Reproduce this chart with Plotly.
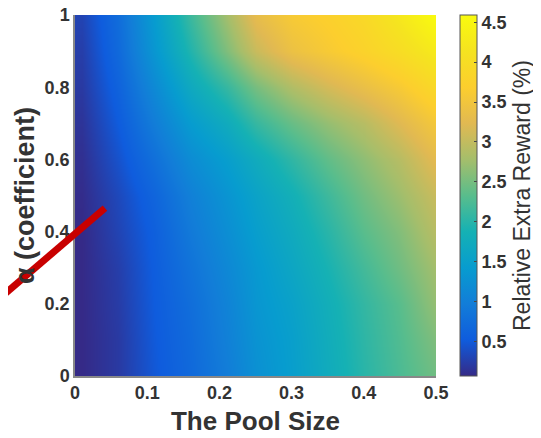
import plotly.graph_objects as go

# Pool size (x) grid and coefficient (y) grid
pool_size = [0.01, 0.06, 0.11, 0.16, 0.21, 0.25, 0.30, 0.35, 0.40, 0.45, 0.50]
coefficient = [0.0, 0.1, 0.2, 0.3, 0.4, 0.5, 0.6, 0.7, 0.8, 0.9, 1.0]

# Relative extra reward (%), one row per coefficient value
reward_c00 = [0.07, 0.21, 0.48, 0.70, 0.97, 1.25, 1.47, 1.74, 2.01, 2.24, 2.47]
reward_c01 = [0.07, 0.21, 0.50, 0.73, 1.02, 1.29, 1.49, 1.77, 2.04, 2.28, 2.56]
reward_c02 = [0.07, 0.23, 0.52, 0.77, 1.06, 1.34, 1.54, 1.81, 2.08, 2.33, 2.69]
reward_c03 = [0.07, 0.25, 0.54, 0.84, 1.13, 1.38, 1.63, 1.90, 2.19, 2.47, 2.78]
reward_c04 = [0.07, 0.30, 0.57, 0.93, 1.22, 1.47, 1.72, 2.01, 2.33, 2.58, 2.92]
reward_c05 = [0.09, 0.34, 0.64, 1.02, 1.31, 1.56, 1.83, 2.15, 2.47, 2.74, 3.05]
reward_c06 = [0.12, 0.43, 0.79, 1.20, 1.47, 1.74, 2.06, 2.38, 2.65, 2.92, 3.28]
reward_c07 = [0.16, 0.52, 0.97, 1.43, 1.74, 2.10, 2.42, 2.69, 2.92, 3.23, 3.55]
reward_c08 = [0.21, 0.61, 1.15, 1.70, 2.10, 2.51, 2.87, 3.14, 3.37, 3.60, 3.91]
reward_c09 = [0.25, 0.70, 1.34, 1.97, 2.56, 3.05, 3.41, 3.60, 3.78, 4.00, 4.27]
reward_c10 = [0.30, 0.75, 1.43, 2.15, 2.78, 3.32, 3.60, 3.73, 3.91, 4.23, 4.59]

reward = [reward_c00, reward_c01, reward_c02, reward_c03, reward_c04, reward_c05,
          reward_c06, reward_c07, reward_c08, reward_c09, reward_c10]

x_ticks = [0, 0.1, 0.2, 0.3, 0.4, 0.5]
x_tick_text = ["0", "0.1", "0.2", "0.3", "0.4", "0.5"]
y_ticks = [0, 0.2, 0.4, 0.6, 0.8, 1]
y_tick_text = ["0", "0.2", "0.4", "0.6", "0.8", "1"]
cb_ticks = [0.5, 1, 1.5, 2, 2.5, 3, 3.5, 4, 4.5]
cb_tick_text = ["0.5", "1", "1.5", "2", "2.5", "3", "3.5", "4", "4.5"]

parula = [
    [0.0, "rgb(53,42,135)"], [0.1, "rgb(15,92,221)"], [0.2, "rgb(18,125,216)"],
    [0.3, "rgb(7,156,207)"], [0.4, "rgb(21,177,180)"], [0.5, "rgb(89,189,140)"],
    [0.6, "rgb(165,190,107)"], [0.7, "rgb(225,185,82)"], [0.8, "rgb(252,206,46)"],
    [0.9, "rgb(245,227,32)"], [1.0, "rgb(249,251,14)"],
]

FONT = "Liberation Sans, Arial, Helvetica, sans-serif"
TXT = "#333333"

fig = go.Figure(go.Heatmap(
    x=pool_size, y=coefficient, z=reward,
    colorscale=parula, zmin=0.07, zmax=4.59, zsmooth="best",
    colorbar=dict(
        x=1.066, xanchor="left", xref="paper", xpad=0, y=0.5, yanchor="middle", ypad=0,
        len=1.0, lenmode="fraction", thickness=17, outlinewidth=1, outlinecolor="#555",
        tickvals=cb_ticks, ticktext=cb_tick_text, ticks="inside", ticklen=3, tickcolor="#444",
        tickfont=dict(family=FONT, size=18, color=TXT, weight="bold"),
        title=dict(text="Relative Extra Reward (%)", side="right",
                   font=dict(family=FONT, size=23, color=TXT)),
    ),
))

fig.add_shape(type="line", xref="paper", yref="paper",
              x0=-0.208, y0=0.216, x1=0.083, y1=0.465,
              line=dict(color="rgb(200,0,0)", width=7))

fig.update_layout(
    width=533, height=430,
    margin=dict(l=67, r=105, t=7, b=62, autoexpand=False),
    paper_bgcolor="white", plot_bgcolor="white",
    xaxis=dict(range=[0, 0.5], tickvals=x_ticks, ticktext=x_tick_text, automargin=False,
               showgrid=False, zeroline=False, showline=True, linecolor="#888", linewidth=1.5,
               ticks="inside", ticklen=5, tickcolor="#888", layer="below traces",
               ticklabeloverflow="allow",
               tickfont=dict(family=FONT, size=18, color=TXT, weight="bold"),
               title=dict(text="The Pool Size", standoff=9,
                          font=dict(family=FONT, size=26, color=TXT, weight="bold"))),
    yaxis=dict(range=[0, 1], tickvals=y_ticks, ticktext=y_tick_text, automargin=False,
               showgrid=False, zeroline=False, showline=True, linecolor="#888", linewidth=1.5,
               ticks="inside", ticklen=5, tickcolor="#888", layer="below traces",
               ticklabeloverflow="allow",
               tickfont=dict(family=FONT, size=18, color=TXT, weight="bold"),
               title=dict(text="α (coefficient)", standoff=2,
                          font=dict(family=FONT, size=27, color=TXT, weight="bold"))),
)

fig.write_html("out.html")
